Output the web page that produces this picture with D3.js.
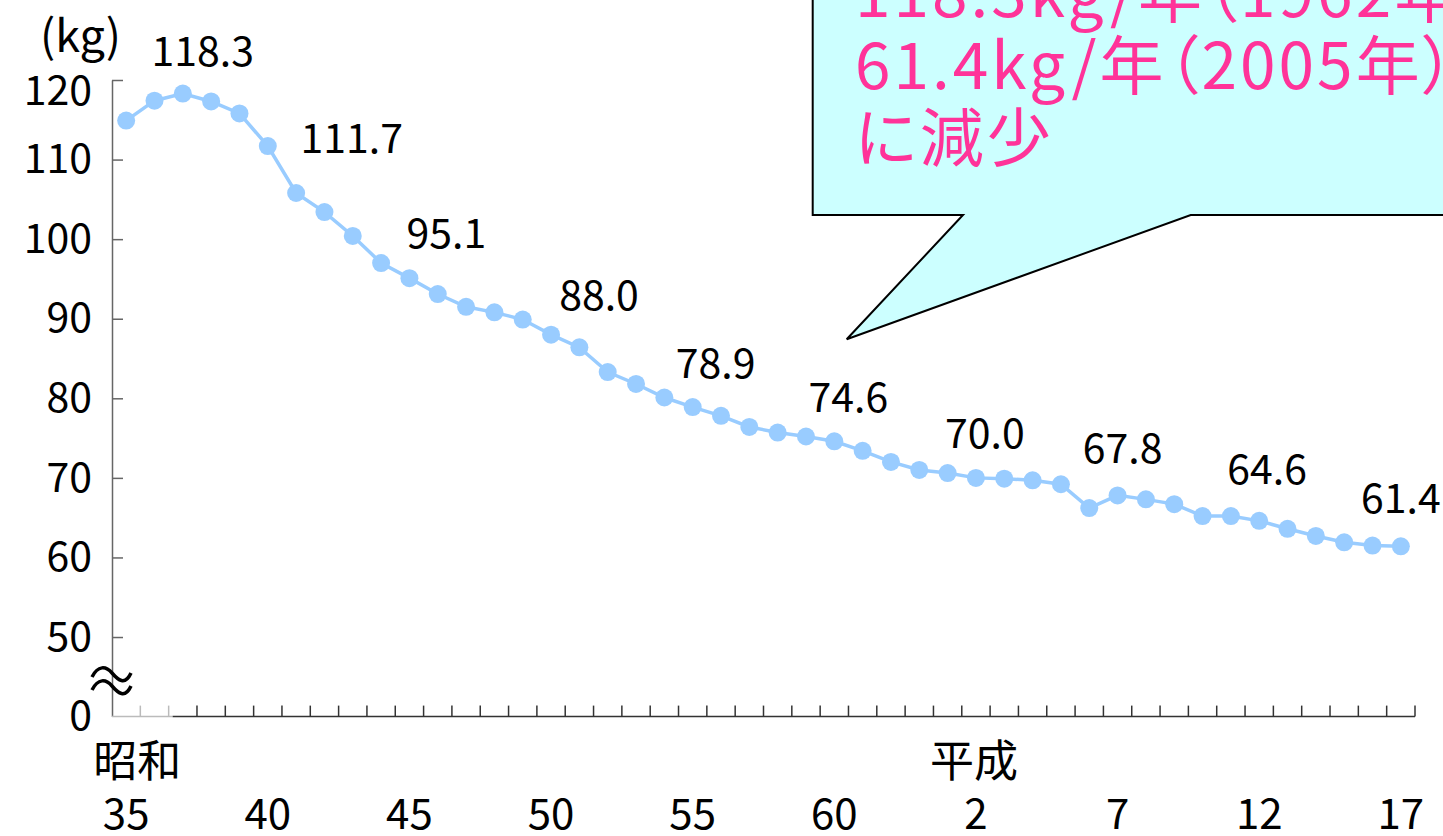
<!DOCTYPE html>
<html>
<head>
<meta charset="utf-8">
<script src="https://cdn.jsdelivr.net/npm/d3@7"></script>
<style>
  html, body { margin: 0; padding: 0; background: #fff; }
  svg { display: block; }
  text { font-family: "Noto Sans CJK JP", "Noto Sans", sans-serif; fill: #000; }
  .callout text { fill: #ff3399; font-feature-settings: "palt"; letter-spacing: 3px; }
</style>
</head>
<body>
<svg width="1443" height="836"></svg>
<script>
// per-capita rice consumption, 1960 (S35) .. 2005 (H17)
const years = d3.range(1960, 2006);
const consumption = [
  114.9, 117.4, 118.3, 117.3, 115.8, 111.7, 105.8, 103.4, 100.4, 97.0,
  95.1, 93.1, 91.5, 90.8, 89.9, 88.0, 86.4, 83.3, 81.8, 80.1,
  78.9, 77.8, 76.4, 75.7, 75.2, 74.6, 73.4, 72.0, 71.0, 70.6,
  70.0, 69.9, 69.7, 69.2, 66.2, 67.8, 67.3, 66.7, 65.2, 65.2,
  64.6, 63.6, 62.7, 61.9, 61.5, 61.4
];
const labelYears = [1962, 1965, 1970, 1975, 1980, 1985, 1990, 1995, 2000, 2005];
const tickYears = [1960, 1965, 1970, 1975, 1980, 1985, 1990, 1995, 2000, 2005];
const tickLabels = ['35', '40', '45', '50', '55', '60', '2', '7', '12', '17'];
const eraYears = [1960, 1990];
const eraNames = ['昭和', '平成'];
const yTicks = [40, 50, 60, 70, 80, 90, 100, 110, 120];   // 40 stands in for the broken "0"
const calloutLines = ['118.3kg/年（1962年）から', '61.4kg/年（2005年）', 'に減少'];

const data = years.map((yr, i) => ({ year: yr, value: consumption[i] }));

const svg = d3.select('svg');

const x = d3.scaleBand()
  .domain(years)
  .range([112, 1415]);

const y = d3.scaleLinear()
  .domain([40, 120])
  .range([716.6, 80]);

const cx = d => x(d) + x.bandwidth() / 2;

// callout balloon (behind everything else)
const callout = svg.append('g').attr('class', 'callout');
callout.append('path')
  .attr('d', 'M812.7,-10 L812.7,215 L963,215 L846.7,339.3 L1190.7,215 L1460,215 L1460,-10 Z')
  .attr('fill', '#ccffff')
  .attr('stroke', '#000')
  .attr('stroke-width', 2);
callout.selectAll('text')
  .data(calloutLines)
  .enter()
  .append('text')
  .attr('x', 855)
  .attr('y', (d, i) => 17 + i * 72)
  .attr('font-size', 64)
  .text(d => d);

// y axis
const yAxis = svg.append('g')
  .attr('transform', 'translate(112,0)')
  .call(d3.axisLeft(y)
    .tickValues(yTicks)
    .tickSizeInner(-11)
    .tickSizeOuter(0)
    .tickPadding(20)
    .tickFormat(d => d === 40 ? '0' : d));
yAxis.select('.domain').attr('stroke', '#666').attr('stroke-width', 1.5);
yAxis.selectAll('.tick line').attr('stroke', '#666').attr('stroke-width', 1.5);
yAxis.selectAll('.tick').filter(d => d === 40).select('line').remove();
yAxis.selectAll('.tick text')
  .attr('font-size', 41)
  .attr('font-family', '"Noto Sans CJK JP", sans-serif')
  .attr('fill', '#000');
yAxis.selectAll('.tick').filter(d => d === 120).select('text').attr('y', 11);

// broken-axis mark
const brk = svg.append('g').attr('fill', 'none').attr('stroke', '#000').attr('stroke-width', 3.5);
[0, 13].forEach(off => {
  brk.append('path')
    .attr('d', `M92,${677 + off} C98,${665 + off} 106,${666 + off} 112,${673 + off} S125,${686 + off} 131,${673 + off}`);
});

// x axis with ticks at year boundaries
const xBase = y(40);
const x0 = x.range()[0];
const x1 = x.range()[1];
const lightEnd = x0 + x.step() * 2 + 4;
svg.append('line')
  .attr('x1', x0).attr('x2', lightEnd)
  .attr('y1', xBase).attr('y2', xBase)
  .attr('stroke', '#bbb').attr('stroke-width', 1.5);
svg.append('line')
  .attr('x1', lightEnd).attr('x2', x1)
  .attr('y1', xBase).attr('y2', xBase)
  .attr('stroke', '#333').attr('stroke-width', 1.5);
svg.append('g')
  .selectAll('line')
  .data(years)
  .enter()
  .append('line')
  .attr('x1', d => x(d) + x.step())
  .attr('x2', d => x(d) + x.step())
  .attr('y1', xBase)
  .attr('y2', xBase - 11)
  .attr('stroke', d => x(d) + x.step() < lightEnd ? '#bbb' : '#333')
  .attr('stroke-width', 1.5);

svg.append('g')
  .selectAll('text')
  .data(tickYears)
  .enter()
  .append('text')
  .attr('x', d => cx(d))
  .attr('y', 829)
  .attr('text-anchor', 'middle')
  .attr('font-size', 42)
  .text((d, i) => tickLabels[i]);

svg.append('g')
  .selectAll('text')
  .data(eraYears)
  .enter()
  .append('text')
  .attr('x', d => cx(d) + (d === 1960 ? 11 : -2))
  .attr('y', 777)
  .attr('text-anchor', 'middle')
  .attr('font-size', 44)
  .text((d, i) => eraNames[i]);

// unit
svg.append('text')
  .attr('x', 40)
  .attr('y', 52)
  .attr('font-size', 45)
  .text('(kg)');

// series
const line = d3.line()
  .x(d => cx(d.year))
  .y(d => y(d.value));

svg.append('path')
  .datum(data)
  .attr('d', line)
  .attr('fill', 'none')
  .attr('stroke', '#99ccff')
  .attr('stroke-width', 3.5);

svg.append('g')
  .selectAll('circle')
  .data(data)
  .enter()
  .append('circle')
  .attr('cx', d => cx(d.year))
  .attr('cy', d => y(d.value))
  .attr('r', 9)
  .attr('fill', '#99ccff');

// value labels, nudged off the line like the original
const labelNudge = {
  1962: [20, -28], 1965: [84, 7], 1970: [37, -30], 1975: [48, -25], 1980: [23, -29],
  1985: [14, -29], 1990: [9, -30], 1995: [5, -32], 2000: [8, -37], 2005: [0, -33]
};
svg.append('g')
  .selectAll('text')
  .data(data.filter(d => labelYears.includes(d.year)))
  .enter()
  .append('text')
  .attr('x', d => cx(d.year) + labelNudge[d.year][0])
  .attr('y', d => y(d.value) + labelNudge[d.year][1])
  .attr('text-anchor', 'middle')
  .attr('font-size', 41)
  .text(d => d.value.toFixed(1));
</script>
</body>
</html>
